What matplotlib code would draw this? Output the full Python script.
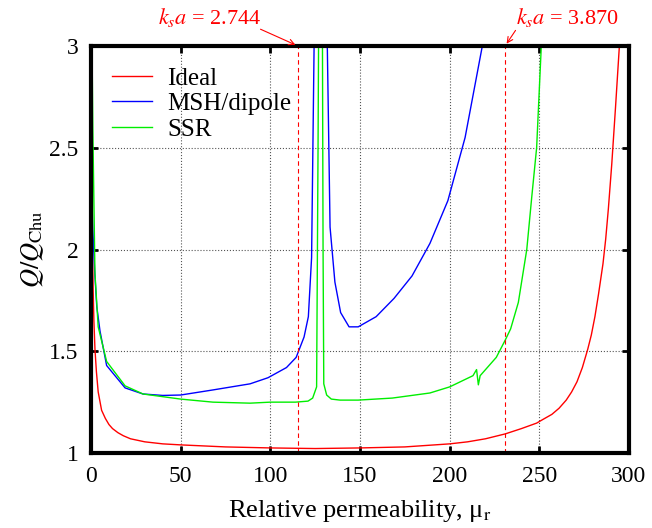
import matplotlib.pyplot as plt

plt.rcParams['font.family'] = ['Liberation Serif', 'DejaVu Serif']
plt.rcParams['mathtext.fontset'] = 'stix'

# Ideal
mu_ideal = [0.2, 0.4, 0.7, 1.2, 1.6, 2.2, 3, 4, 5.9, 8, 10, 12, 15, 18, 22, 30, 40, 50,
            75, 100, 125, 150, 175, 200, 210, 220, 231, 240, 248.5, 252, 257, 261, 265,
            268, 271, 274, 277, 279, 281, 283, 285.5, 287, 288.5, 290.4, 292.5, 294.5, 296]
q_ideal = [3.4, 2.7, 2.05, 1.8, 1.65, 1.51, 1.4, 1.3, 1.21, 1.17, 1.14, 1.12, 1.10,
           1.085, 1.07, 1.055, 1.045, 1.04, 1.03, 1.025, 1.022, 1.025, 1.03, 1.045, 1.055,
           1.07, 1.094, 1.12, 1.147, 1.165, 1.19, 1.22, 1.26, 1.3, 1.35, 1.42, 1.51, 1.58,
           1.67, 1.78, 1.93, 2.05, 2.2, 2.42, 2.7, 2.98, 3.2]

# MSH/dipole
mu_msh = [0, 1, 2, 3.2, 5, 8.7, 19, 29, 40, 50, 68, 88.7, 98.7, 109, 114.4, 118.8, 121.2,
          123, 124.4, 128, 131.8, 133.3, 136, 139.2, 143.9, 149, 159, 169, 179, 189, 199,
          208.6, 218, 220]
q_msh = [2.4, 2.1, 1.9, 1.72, 1.6, 1.43, 1.32, 1.29, 1.283, 1.285, 1.31, 1.34, 1.37, 1.42,
         1.47, 1.57, 1.67, 1.96, 3.0, 4.0, 2.98, 2.11, 1.84, 1.69, 1.62, 1.62, 1.67, 1.76,
         1.87, 2.03, 2.24, 2.55, 2.99, 3.1]

# SSR
mu_ssr = [0, 1, 2.2, 4, 8.7, 19, 29, 50, 68, 88.7, 100, 114, 121, 123.6, 125.8, 126.6,
          127, 128, 129, 129.4, 129.8, 131.4, 134, 138.9, 149, 168, 189, 200, 213, 215,
          216, 217, 226, 231, 234, 238.3, 243, 245.8, 248.5, 251, 252]
q_ssr = [3.5, 2.6, 1.88, 1.62, 1.45, 1.33, 1.29, 1.265, 1.25, 1.245, 1.25, 1.25, 1.255,
         1.27, 1.325, 2.5, 3.2, 4.0, 3.2, 2.0, 1.34, 1.285, 1.265, 1.26, 1.26, 1.27, 1.295,
         1.325, 1.38, 1.41, 1.335, 1.38, 1.47, 1.555, 1.61, 1.74, 2.0, 2.26, 2.5, 2.98, 3.2]

ka_labels = ['2.744', '3.870']
ka_mu = [115.4, 230.9]

fig = plt.figure(figsize=(6.52, 5.28), dpi=100)
ax = fig.add_axes([0.1396, 0.142, 0.8251, 0.7709])

ax.plot(mu_ideal, q_ideal, color='#ff0000', lw=1.0, label='Ideal')
ax.plot(mu_msh, q_msh, color='#0000ff', lw=1.0, label='MSH/dipole')
ax.plot(mu_ssr, q_ssr, color='#00ee00', lw=1.0, label='SSR')

for m in ka_mu:
    ax.axvline(m, color='#ff0000', lw=0.8, ls=(0, (4, 3)))

ax.set_xlim(0, 300)
ax.set_ylim(1, 3)
ax.set_xticks([0, 50, 100, 150, 200, 250, 300])
ax.set_yticks([1, 1.5, 2, 2.5, 3])
ax.set_yticklabels(['1', '1.5', '2', '2.5', '3'])
ax.grid(True, color='#555555', ls=':', lw=0.8)
ax.tick_params(direction='in', length=5, width=2, top=True, right=True,
               labelsize=17, pad=9)
for s in ax.spines.values():
    s.set_linewidth(3)

ax.set_xlabel('Relative permeability, μ$_{\\rm r}$', fontsize=19, labelpad=8)
ax.set_ylabel(r'$Q/Q_{\rm Chu}$', fontsize=19, labelpad=2)

ax.legend(loc='upper left', frameon=False, fontsize=18, handlelength=1.6,
          labelspacing=0.12, borderaxespad=0.55, handletextpad=0.6,
          borderpad=0.3)

# k_s a annotations above the frame
txt_pos = [(66.4, 3.14), (265.5, 3.14)]
arrow_from = [(93.1, 3.088), (237.6, 3.088)]
for lab, m, tp, af in zip(ka_labels, ka_mu, txt_pos, arrow_from):
    ax.text(tp[0], tp[1], r'$k_s a$ = ' + lab, color='#ff0000', fontsize=16,
            ha='center', va='center', clip_on=False)
    ax.annotate('', xy=(m, 3.0), xytext=af, annotation_clip=False,
                arrowprops=dict(arrowstyle='->', color='#ff0000', lw=0.8))

fig.savefig('out.png', dpi=100)
